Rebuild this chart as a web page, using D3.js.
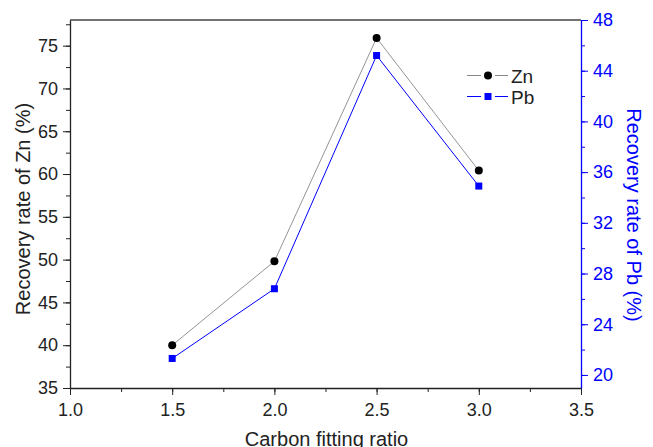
<!DOCTYPE html>
<html>
<head>
<meta charset="utf-8">
<script src="https://cdn.jsdelivr.net/npm/d3@7"></script>
<style>
  body { margin: 0; background: #fff; }
  svg text { font-family: "Liberation Sans", Arial, sans-serif; }
</style>
</head>
<body>
<svg id="chart"></svg>
<script>
const CONF = {
    width: 653,
    height: 447,
    left: 70,
    right: 581,
    top: 20,
    bottom: 388,
}

// data
const ratios = [1.5, 2.0, 2.5, 3.0]
const znRecovery = [40.0, 49.8, 75.9, 60.4]
const pbRecovery = [21.3, 26.8, 45.2, 34.9]

const xTicks = [1.0, 1.5, 2.0, 2.5, 3.0, 3.5]
const znTicks = [35, 40, 45, 50, 55, 60, 65, 70, 75]
const pbTicks = [20, 24, 28, 32, 36, 40, 44, 48]

let svg = d3.select("svg#chart").attr("width", CONF.width).attr("height", CONF.height)

let x = d3.scaleLinear().domain([1.0, 3.5]).range([CONF.left, CONF.right])
let yZn = d3.scaleLinear().domain([35, 78]).range([CONF.bottom, CONF.top])
let yPb = d3.scaleLinear().domain([18.97, 48]).range([CONF.bottom, CONF.top])

function styleAxis(g, color) {
    g.selectAll("path").attr("stroke", color).attr("stroke-width", 1.3)
    g.selectAll("line").attr("stroke", color)
    g.selectAll("text").attr("fill", color).style("font-size", "18px")
}

// minor ticks first, so major ticks draw on top
svg.append("g")
    .attr("transform", `translate(0,${CONF.bottom})`)
    .call(d3.axisBottom(x).tickValues(d3.range(1.0, 3.51, 0.25)).tickSize(4).tickFormat(""))
    .call(g => g.select("path").remove())
    .call(g => g.selectAll("line").attr("stroke", "#222"))

svg.append("g")
    .attr("transform", `translate(${CONF.left},0)`)
    .call(d3.axisLeft(yZn).tickValues(d3.range(35, 78, 2.5)).tickSize(4).tickFormat(""))
    .call(g => g.select("path").remove())
    .call(g => g.selectAll("line").attr("stroke", "#222"))

svg.append("g")
    .attr("transform", `translate(${CONF.right},0)`)
    .call(d3.axisRight(yPb).tickValues(d3.range(20, 48.1, 2)).tickSize(4).tickFormat(""))
    .call(g => g.select("path").remove())
    .call(g => g.selectAll("line").attr("stroke", "#0000ff"))

// top frame line
svg.append("line")
    .attr("x1", CONF.left).attr("x2", CONF.right)
    .attr("y1", CONF.top).attr("y2", CONF.top)
    .attr("stroke", "#444").attr("stroke-width", 1.3)

svg.append("g")
    .attr("transform", `translate(0,${CONF.bottom})`)
    .call(d3.axisBottom(x).tickValues(xTicks).tickSize(7).tickPadding(8).tickSizeOuter(0).tickFormat(d3.format(".1f")))
    .call(g => styleAxis(g, "#222"))

svg.append("g")
    .attr("transform", `translate(${CONF.left},0)`)
    .call(d3.axisLeft(yZn).tickValues(znTicks).tickSize(7).tickPadding(5).tickSizeOuter(0))
    .call(g => styleAxis(g, "#222"))

svg.append("g")
    .attr("transform", `translate(${CONF.right},0)`)
    .call(d3.axisRight(yPb).tickValues(pbTicks).tickSize(7).tickPadding(5).tickSizeOuter(0))
    .call(g => styleAxis(g, "#0000ff"))

// axis titles
svg.append("text")
    .attr("transform", `translate(${(CONF.left + CONF.right) / 2 + 1},446)`)
    .attr("text-anchor", "middle")
    .style("font-size", "20px").attr("fill", "#222")
    .text("Carbon fitting ratio")

svg.append("text")
    .attr("transform", `translate(30,${(CONF.top + CONF.bottom) / 2 + 5}) rotate(-90)`)
    .attr("text-anchor", "middle")
    .style("font-size", "20px").attr("fill", "#222")
    .text("Recovery rate of Zn (%)")

svg.append("text")
    .attr("transform", `translate(627,${(CONF.top + CONF.bottom) / 2 + 11}) rotate(90)`)
    .attr("text-anchor", "middle")
    .style("font-size", "20px").attr("fill", "#0000ff")
    .text("Recovery rate of Pb (%)")

let zn = ratios.map((r, i) => [r, znRecovery[i]])
let pb = ratios.map((r, i) => [r, pbRecovery[i]])

svg.append("path")
    .datum(zn)
    .attr("fill", "none")
    .attr("stroke", "#888")
    .attr("stroke-width", 0.9)
    .attr("d", d3.line().x(d => x(d[0])).y(d => yZn(d[1])))

svg.append("path")
    .datum(pb)
    .attr("fill", "none")
    .attr("stroke", "#0000ff")
    .attr("stroke-width", 1)
    .attr("d", d3.line().x(d => x(d[0])).y(d => yPb(d[1])))

svg.selectAll(".zn-dot")
    .data(zn)
    .enter()
    .append("circle")
    .classed("zn-dot", true)
    .attr("cx", d => x(d[0]))
    .attr("cy", d => yZn(d[1]))
    .attr("r", 4)
    .attr("fill", "#000")

svg.selectAll(".pb-dot")
    .data(pb)
    .enter()
    .append("rect")
    .classed("pb-dot", true)
    .attr("x", d => x(d[0]) - 3.5)
    .attr("y", d => yPb(d[1]) - 3.5)
    .attr("width", 7)
    .attr("height", 7)
    .attr("fill", "#0000ff")

// legend
let legend = svg.append("g").attr("transform", "translate(467,75.5)")
legend.append("line").attr("x1", 0).attr("x2", 14).attr("stroke", "#888")
legend.append("line").attr("x1", 28).attr("x2", 41).attr("stroke", "#888")
legend.append("circle").attr("cx", 21).attr("cy", 0).attr("r", 4).attr("fill", "#000")
legend.append("text").attr("x", 44).attr("y", 7).style("font-size", "19px").attr("fill", "#222").text("Zn")

legend.append("line").attr("x1", 0).attr("x2", 14).attr("y1", 21).attr("y2", 21).attr("stroke", "#0000ff")
legend.append("line").attr("x1", 28).attr("x2", 41).attr("y1", 21).attr("y2", 21).attr("stroke", "#0000ff")
legend.append("rect").attr("x", 17.5).attr("y", 17.5).attr("width", 7).attr("height", 7).attr("fill", "#0000ff")
legend.append("text").attr("x", 44).attr("y", 28).style("font-size", "19px").attr("fill", "#222").text("Pb")
</script>
</body>
</html>
